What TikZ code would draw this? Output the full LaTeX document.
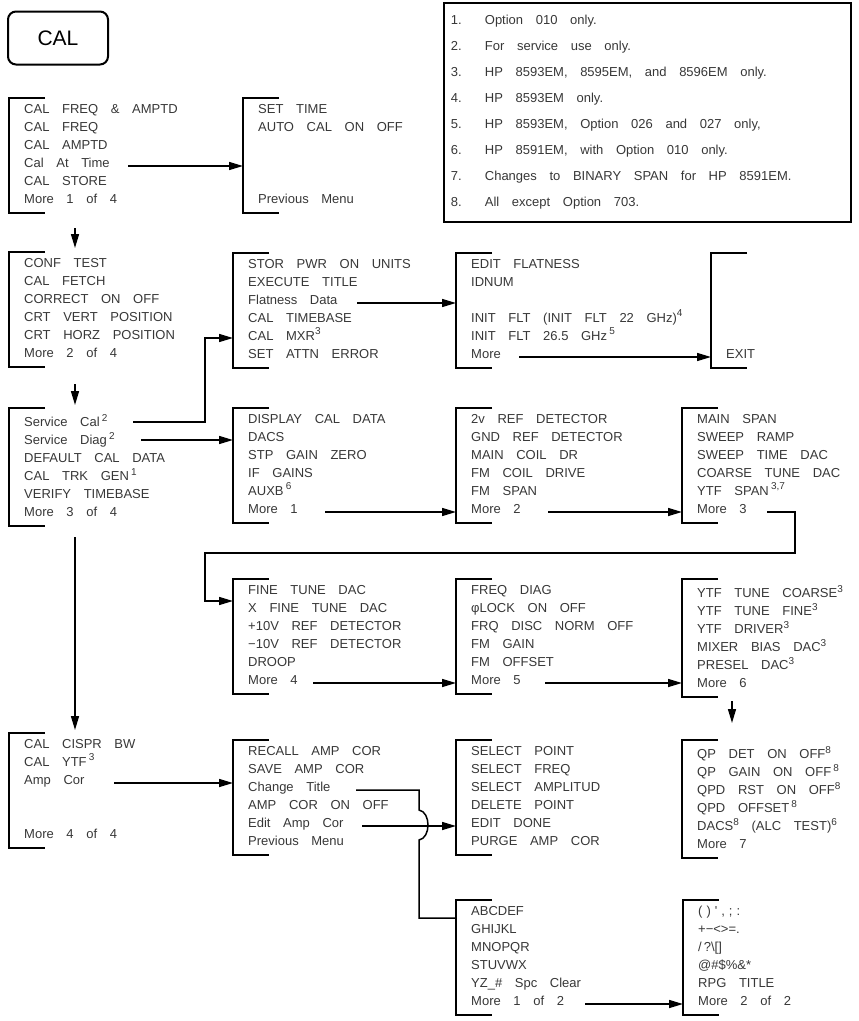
\documentclass[tikz,border=0pt]{standalone}
\usepackage{fontspec}
\setmainfont{Liberation Sans}[WordSpace=3.5]
\usepackage{tikz}
\usetikzlibrary{arrows.meta,calc}
\definecolor{inkgray}{RGB}{55,55,55}
\newcommand\sups[1]{\raisebox{5.3pt}{\fontsize{10}{10}\selectfont #1}}
\newcommand\rs{\rule[-3.5pt]{0pt}{12.5pt}}
\newcommand\menubracket[1]{%
  \draw[bracket] ([xshift=36pt]#1.north west) -- (#1.north west)
    -- (#1.south west) -- ([xshift=36pt]#1.south west);}

\begin{document}
\begin{tikzpicture}[
  x=1pt,
  y=-1pt,
  menu/.style={
    anchor=north west,
    inner xsep=15pt,
    inner ysep=6pt,
    align=left,
    text=inkgray,
    font={\fontsize{13}{18}\selectfont}
  },
  bracket/.style={
    line width=2.2pt,
    draw=black
  },
  calkey/.style={
    draw=black,
    line width=2pt,
    rounded corners=8pt,
    minimum width=100pt,
    minimum height=53pt,
    font={\fontsize{21}{24}\selectfont}
  },
  notebox/.style={
    draw=black,
    line width=1.8pt,
    anchor=north west,
    inner xsep=7pt,
    inner ysep=12.2pt,
    text width=393pt,
    align=flush left,
    text=inkgray,
    font={\fontsize{13}{26}\selectfont}
  },
  link/.style={
    line width=1.5pt,
    draw=black
  },
  arr/.style={
    link,
    -{Triangle[length=14pt,width=8pt]}
  }
]

\useasboundingbox (0,0) rectangle (859,1021);

\node[calkey] (CalKey) at (58,38) {CAL};

\node[notebox] (Notes) at (443,2)
  {\rs\makebox[34pt][l]{1.}Option 010 only.\\
   \makebox[34pt][l]{2.}For service use only.\\
   \makebox[34pt][l]{3.}HP 8593EM, 8595EM, and 8596EM only.\\
   \makebox[34pt][l]{4.}HP 8593EM only.\\
   \makebox[34pt][l]{5.}HP 8593EM, Option 026 and 027 only,\\
   \makebox[34pt][l]{6.}HP 8591EM, with Option 010 only.\\
   \makebox[34pt][l]{7.}Changes to BINARY SPAN for HP 8591EM.\\
   \makebox[34pt][l]{8.}All except Option 703.\rs};

\node[menu] (CalMenu) at (9,98)
  {\rs CAL FREQ \& AMPTD\\CAL FREQ\\CAL AMPTD\\Cal At Time\\CAL STORE\\More 1 of 4\rs};
\node[menu] (TimeMenu) at (243,98)
  {\rs SET TIME\\AUTO CAL ON OFF\\~\\~\\~\\Previous Menu\rs};

\node[menu] (ConfMenu) at (9,252)
  {\rs CONF TEST\\CAL FETCH\\CORRECT ON OFF\\CRT VERT POSITION\\CRT HORZ POSITION\\More 2 of 4\rs};
\node[menu] (StorMenu) at (233,253)
  {\rs STOR PWR ON UNITS\\EXECUTE TITLE\\Flatness Data\\CAL TIMEBASE\\CAL MXR\sups{3}\\SET ATTN ERROR\rs};
\node[menu] (FlatMenu) at (456,253)
  {\rs EDIT FLATNESS\\IDNUM\\~\\INIT FLT (INIT FLT 22 GHz)\sups{4}\\INIT FLT 26.5 GHz\,\sups{5}\\More\rs};
\node[menu] (ExitMenu) at (711,253)
  {\rs~\\~\\~\\~\\~\\EXIT\rs};

\node[menu] (SvcMenu) at (9,408)
  {\rs Service Cal\,\sups{2}\\Service Diag\,\sups{2}\\DEFAULT CAL DATA\\CAL TRK GEN\,\sups{1}\\VERIFY TIMEBASE\\More 3 of 4\rs};
\node[menu] (DiagMenu) at (233,408)
  {\rs DISPLAY CAL DATA\\DACS\\STP GAIN ZERO\\IF GAINS\\AUXB\,\sups{6}\\More 1\rs};
\node[menu] (RefMenu) at (456,408)
  {\rs 2v REF DETECTOR\\GND REF DETECTOR\\MAIN COIL DR\\FM COIL DRIVE\\FM SPAN\\More 2\rs};
\node[menu] (SpanMenu) at (682,408)
  {\rs MAIN SPAN\\SWEEP RAMP\\SWEEP TIME DAC\\COARSE TUNE DAC\\YTF SPAN\,\sups{3,7}\\More 3\rs};

\node[menu] (FineMenu) at (233,579)
  {\rs FINE TUNE DAC\\X FINE TUNE DAC\\+10V REF DETECTOR\\−10V REF DETECTOR\\DROOP\\More 4\rs};
\node[menu] (FreqMenu) at (456,579)
  {\rs FREQ DIAG\\φLOCK ON OFF\\FRQ DISC NORM OFF\\FM GAIN\\FM OFFSET\\More 5\rs};
\node[menu] (YtfMenu) at (682,579)
  {\rs YTF TUNE COARSE\sups{3}\\YTF TUNE FINE\sups{3}\\YTF DRIVER\sups{3}\\MIXER BIAS DAC\sups{3}\\PRESEL DAC\sups{3}\\More 6\rs};

\node[menu] (CisprMenu) at (9,733)
  {\rs CAL CISPR BW\\CAL YTF\,\sups{3}\\Amp Cor\\~\\~\\More 4 of 4\rs};
\node[menu] (AmpMenu) at (233,740)
  {\rs RECALL AMP COR\\SAVE AMP COR\\Change Title\\AMP COR ON OFF\\Edit Amp Cor\\Previous Menu\rs};
\node[menu] (EditMenu) at (456,740)
  {\rs SELECT POINT\\SELECT FREQ\\SELECT AMPLITUD\\DELETE POINT\\EDIT DONE\\PURGE AMP COR\rs};
\node[menu] (QpMenu) at (682,740)
  {\rs QP DET ON OFF\sups{8}\\QP GAIN ON OFF\,\sups{8}\\QPD RST ON OFF\sups{8}\\QPD OFFSET\,\sups{8}\\DACS\sups{8} (ALC TEST)\sups{6}\\More 7\rs};

\node[menu] (AbcMenu) at (456,900)
  {\rs ABCDEF\\GHIJKL\\MNOPQR\\STUVWX\\YZ\_\# Spc Clear\\More 1 of 2\rs};
\node[menu] (SymMenu) at (683,900)
  {\rs (\kern4pt)\kern4pt\textquotesingle\kern4pt,\kern4pt;\kern4pt:\\+−<>=.\\/\kern2pt?\textbackslash[]\\@\#\$\%\&*\\RPG TITLE\\More 2 of 2\rs};

\menubracket{CalMenu}
\menubracket{TimeMenu}
\menubracket{ConfMenu}
\menubracket{StorMenu}
\menubracket{FlatMenu}
\menubracket{ExitMenu}
\menubracket{SvcMenu}
\menubracket{DiagMenu}
\menubracket{RefMenu}
\menubracket{SpanMenu}
\menubracket{FineMenu}
\menubracket{FreqMenu}
\menubracket{YtfMenu}
\menubracket{CisprMenu}
\menubracket{AmpMenu}
\menubracket{EditMenu}
\menubracket{QpMenu}
\menubracket{AbcMenu}
\menubracket{SymMenu}

\coordinate (CalAtTime) at (128,166);
\coordinate (DownOne)   at (75,228);
\coordinate (DownTwo)   at (75,384);
\coordinate (DownThree) at (75,537);
\coordinate (DownSix)   at (732,701);
\coordinate (SvcCal)    at (133,422);
\coordinate (CalMxr)    at (205,338);
\coordinate (SvcDiag)   at (141,440);
\coordinate (FlatData)  at (357,303);
\coordinate (FlatMore)  at (519,357);
\coordinate (MoreOne)   at (325,512);
\coordinate (MoreTwo)   at (548,512);
\coordinate (MoreThree) at (767,512);
\coordinate (ThreeTurn) at (795,553);
\coordinate (FineIn)    at (205,601);
\coordinate (MoreFour)  at (313,683);
\coordinate (MoreFive)  at (545,683);
\coordinate (AmpCor)    at (114,783);
\coordinate (ChgTitle)  at (356,790);
\coordinate (HopTop)    at (419,810);
\coordinate (HopBot)    at (419,840);
\coordinate (TitleIn)   at (419,918);
\coordinate (EditAmp)   at (362,826);
\coordinate (OneOfTwo)  at (585,1004);

\draw[arr] (CalAtTime) -- (CalAtTime -| TimeMenu.west);
\draw[arr,shorten >=4pt] (DownOne) -- (DownOne |- ConfMenu.north);
\draw[arr,shorten >=3pt] (DownTwo) -- (DownTwo |- SvcMenu.north);
\draw[arr,shorten >=3pt] (DownThree) -- (DownThree |- CisprMenu.north);
\draw[arr,shorten >=17pt] (DownSix) -- (DownSix |- QpMenu.north);

\draw[arr] (SvcCal) -| (CalMxr) -- (CalMxr -| StorMenu.west);
\draw[arr] (SvcDiag) -- (SvcDiag -| DiagMenu.west);
\draw[arr] (FlatData) -- (FlatData -| FlatMenu.west);
\draw[arr] (FlatMore) -- (FlatMore -| ExitMenu.west);

\draw[arr] (MoreOne) -- (MoreOne -| RefMenu.west);
\draw[arr] (MoreTwo) -- (MoreTwo -| SpanMenu.west);
\draw[arr] (MoreThree) -| (ThreeTurn) -| (FineIn) -- (FineIn -| FineMenu.west);
\draw[arr] (MoreFour) -- (MoreFour -| FreqMenu.west);
\draw[arr] (MoreFive) -- (MoreFive -| YtfMenu.west);

\draw[arr] (AmpCor) -- (AmpCor -| AmpMenu.west);
\draw[link] (ChgTitle) -| (HopTop)
  .. controls (431,812) and (431,838) .. (HopBot)
  -- (TitleIn) -- (TitleIn -| AbcMenu.west);
\draw[arr] (EditAmp) -- (EditAmp -| EditMenu.west);
\draw[arr] (OneOfTwo) -- (OneOfTwo -| SymMenu.west);

\end{tikzpicture}
\end{document}
